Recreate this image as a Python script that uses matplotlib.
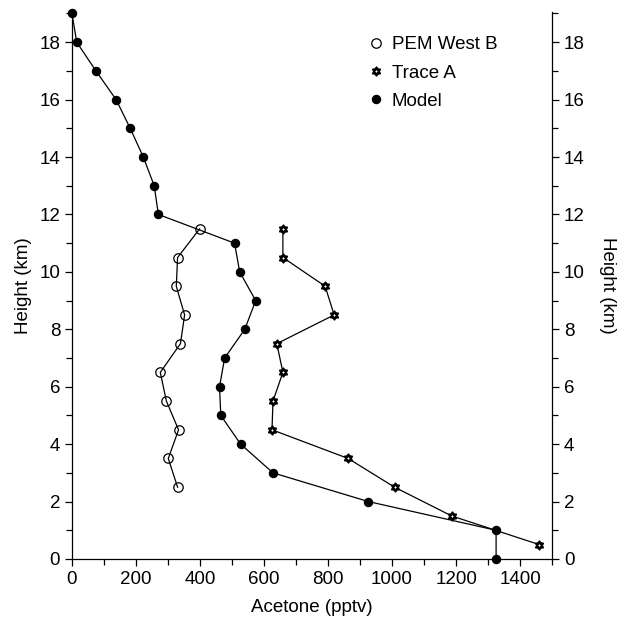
import matplotlib
matplotlib.use("Agg")
import matplotlib.pyplot as plt
from matplotlib.path import Path
from matplotlib.lines import Line2D
from matplotlib.ticker import MultipleLocator

plt.rcParams['font.family'] = ['Liberation Sans', 'DejaVu Sans']

# model profile
model_height = [19, 18, 17, 16, 15, 14, 13, 12, 11, 10, 9, 8, 7, 6, 5, 4, 3, 2, 1, 0]
model_acetone = [0, 15, 75, 138, 182, 223, 257, 270, 508, 524, 574, 540, 477, 461, 465, 527, 628, 926, 1325, 1325]

# PEM West B observations
pem_height = [11.5, 10.5, 9.5, 8.5, 7.5, 6.5, 5.5, 4.5, 3.5, 2.5]
pem_acetone = [399, 330, 326, 352, 339, 276, 295, 333, 301, 330]

# Trace A observations
trace_height = [11.5, 10.5, 9.5, 8.5, 7.5, 6.5, 5.5, 4.5, 3.5, 2.5, 1.5, 0.5]
trace_acetone = [659, 659, 791, 819, 640, 659, 628, 625, 863, 1008, 1186, 1460]

# hexagram marker (two triangles)
tri_up = [(0, 1), (-0.866, -0.5), (0.866, -0.5), (0, 1)]
tri_dn = [(0, -1), (0.866, 0.5), (-0.866, 0.5), (0, -1)]
star = Path(tri_up + tri_dn,
            [Path.MOVETO, Path.LINETO, Path.LINETO, Path.CLOSEPOLY] * 2)

fs = 13.5
fig = plt.figure(figsize=(6.31, 6.18), dpi=100)
ax = fig.add_axes([0.114, 0.0955, 0.761, 0.885])

ax.plot(model_acetone, model_height, '-o', color='black', lw=0.9,
        ms=5.8, mfc='black', mec='black', clip_on=False, zorder=3)
ax.plot(pem_acetone, pem_height, '-o', color='black', lw=0.9,
        ms=6.8, mfc='none', mec='black', mew=0.9, zorder=3)
ax.plot(trace_acetone, trace_height, '-', color='black', lw=0.9,
        marker=star, ms=6, mfc='white', mec='black', mew=1.4, zorder=4)

ax.set_xlim(0, 1500)
ax.set_ylim(0, 19.05)
ax.spines['top'].set_visible(False)
for s in ['left', 'right', 'bottom']:
    ax.spines[s].set_linewidth(0.9)

ax.xaxis.set_major_locator(MultipleLocator(200))
ax.xaxis.set_minor_locator(MultipleLocator(100))
ax.yaxis.set_major_locator(MultipleLocator(2))
ax.yaxis.set_minor_locator(MultipleLocator(1))
ax.tick_params(which='both', direction='out', labelsize=fs, width=0.9,
               left=True, right=True, labelleft=True, labelright=True)
ax.tick_params(which='major', length=5)
ax.tick_params(which='minor', length=4)

ax.set_xlabel('Acetone (pptv)', fontsize=fs, labelpad=8)
ax.set_ylabel('Height (km)', fontsize=fs, labelpad=5)
fig.text(0.9635, 0.0955 + 0.885 / 2, 'Height (km)', fontsize=fs,
         rotation=270, ha='center', va='center')

handles = [
    Line2D([], [], ls='none', marker='o', ms=6.8, mfc='none', mec='black', mew=0.9),
    Line2D([], [], ls='none', marker=star, ms=6, mfc='white', mec='black', mew=1.4),
    Line2D([], [], ls='none', marker='o', ms=5.8, mfc='black', mec='black'),
]
ax.legend(handles, ['PEM West B', 'Trace A', 'Model'], loc='upper left',
          bbox_to_anchor=(0.59, 0.98), frameon=False, fontsize=fs,
          handlelength=0.8, handletextpad=0.45, labelspacing=0.6,
          borderaxespad=0.3)

fig.savefig('out.png', dpi=100)
